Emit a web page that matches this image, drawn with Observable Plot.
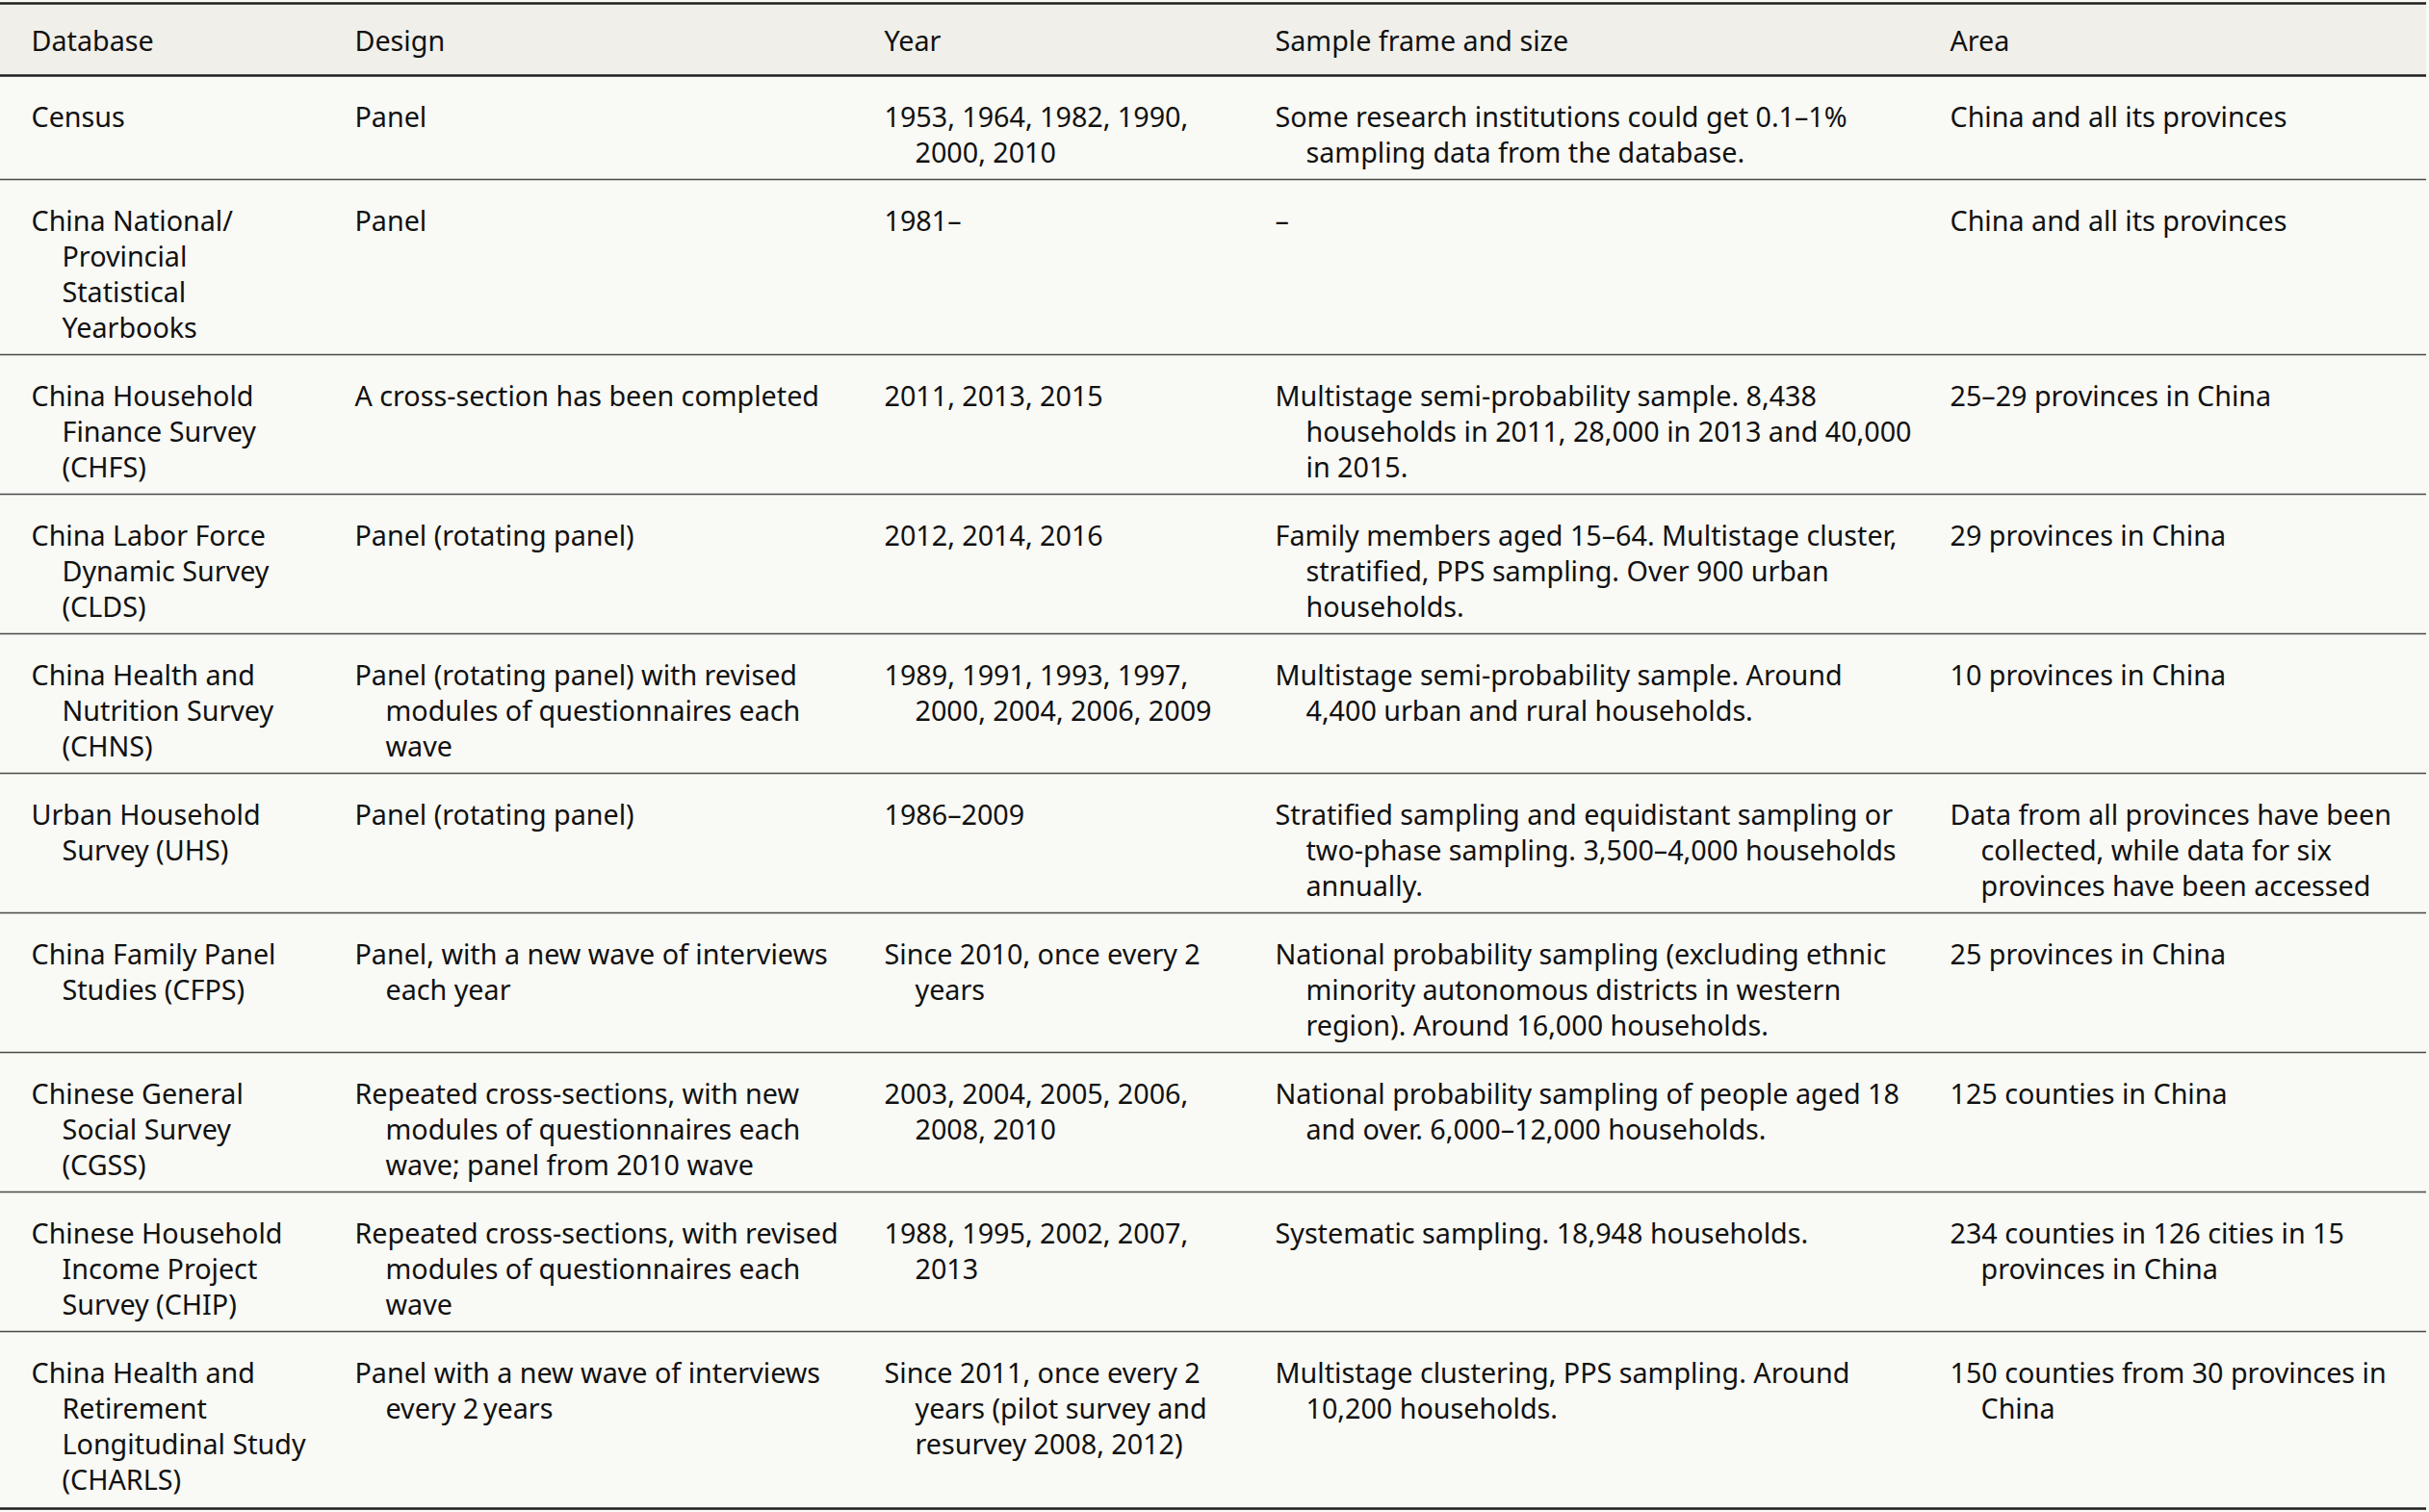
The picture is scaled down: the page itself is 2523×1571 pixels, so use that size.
<!DOCTYPE html>
<html>
<head>
<meta charset="utf-8">
<script src="https://cdn.jsdelivr.net/npm/d3@7"></script>
<script src="https://cdn.jsdelivr.net/npm/@observablehq/plot@0.6"></script>
<style>
  html, body { margin: 0; padding: 0; background: #f9f9f5; }
  #chart svg { display: block; background: #f9f9f5; }
</style>
</head>
<body>
<div id="chart"></div>
<script>
// ---- Data ----
const columns = ["Database", "Design", "Year", "Sample frame and size", "Area"];

const database = [
  "Census",
  "China National/\nProvincial\nStatistical\nYearbooks",
  "China Household\nFinance Survey\n(CHFS)",
  "China Labor Force\nDynamic Survey\n(CLDS)",
  "China Health and\nNutrition Survey\n(CHNS)",
  "Urban Household\nSurvey (UHS)",
  "China Family Panel\nStudies (CFPS)",
  "Chinese General\nSocial Survey\n(CGSS)",
  "Chinese Household\nIncome Project\nSurvey (CHIP)",
  "China Health and\nRetirement\nLongitudinal Study\n(CHARLS)"
];

const design = [
  "Panel",
  "Panel",
  "A cross-section has been completed",
  "Panel (rotating panel)",
  "Panel (rotating panel) with revised\nmodules of questionnaires each\nwave",
  "Panel (rotating panel)",
  "Panel, with a new wave of interviews\neach year",
  "Repeated cross-sections, with new\nmodules of questionnaires each\nwave; panel from 2010 wave",
  "Repeated cross-sections, with revised\nmodules of questionnaires each\nwave",
  "Panel with a new wave of interviews\nevery 2\u2009years"
];

const year = [
  "1953, 1964, 1982, 1990,\n2000, 2010",
  "1981–",
  "2011, 2013, 2015",
  "2012, 2014, 2016",
  "1989, 1991, 1993, 1997,\n2000, 2004, 2006, 2009",
  "1986–2009",
  "Since 2010, once every 2\nyears",
  "2003, 2004, 2005, 2006,\n2008, 2010",
  "1988, 1995, 2002, 2007,\n2013",
  "Since 2011, once every 2\nyears (pilot survey and\nresurvey 2008, 2012)"
];

const sample = [
  "Some research institutions could get 0.1–1%\nsampling data from the database.",
  "–",
  "Multistage semi-probability sample. 8,438\nhouseholds in 2011, 28,000 in 2013 and 40,000\nin 2015.",
  "Family members aged 15–64. Multistage cluster,\nstratified, PPS sampling. Over 900 urban\nhouseholds.",
  "Multistage semi-probability sample. Around\n4,400 urban and rural households.",
  "Stratified sampling and equidistant sampling or\ntwo-phase sampling. 3,500–4,000 households\nannually.",
  "National probability sampling (excluding ethnic\nminority autonomous districts in western\nregion). Around 16,000 households.",
  "National probability sampling of people aged 18\nand over. 6,000–12,000 households.",
  "Systematic sampling. 18,948 households.",
  "Multistage clustering, PPS sampling. Around\n10,200 households."
];

const area = [
  "China and all its provinces",
  "China and all its provinces",
  "25–29 provinces in China",
  "29 provinces in China",
  "10 provinces in China",
  "Data from all provinces have been\ncollected, while data for six\nprovinces have been accessed",
  "25 provinces in China",
  "125 counties in China",
  "234 counties in 126 cities in 15\nprovinces in China",
  "150 counties from 30 provinces in\nChina"
];

// ---- Layout (styles, not data) ----
const W = 2523, H = 1571;
const colStart = {"Database": 32, "Design": 368, "Year": 918, "Sample frame and size": 1324, "Area": 2025};
const tableRight = 2520;
const fontSize = 28.7;
const lineH = 37;
const indent = 32;
const headerTop = 3, headerBottom = 78, headerBaseline = 52;
const rowPad = 34, firstBaselineOffset = 53;

const cellCols = [database, design, year, sample, area];

// Build rows
const rows = database.map((_, i) => {
  const cells = cellCols.map(c => c[i].split("\n"));
  return {i, cells, n: d3.max(cells, c => c.length)};
});
let cursor = headerBottom;
for (const r of rows) {
  r.top = cursor;
  r.bottom = cursor + rowPad + lineH * r.n;
  cursor = r.bottom;
}

// Text lines
const lines = [];
rows.forEach(r => {
  r.cells.forEach((cl, ci) => {
    cl.forEach((t, li) => {
      lines.push({col: columns[ci], text: t, cont: li > 0, y: r.top + firstBaselineOffset + li * lineH});
    });
  });
});
const headerCells = columns.map(c => ({col: c, text: c, y: headerBaseline}));

const rowRules = rows.slice(0, -1).map(r => ({y: r.bottom}));
const topRules = [{y: headerTop}, {y: headerBottom}, {y: rows[rows.length - 1].bottom + 2}];

const textStyle = {
  x: d => colStart[d.col],
  y: "y",
  text: "text",
  textAnchor: "start",
  lineAnchor: "bottom",
  fontSize: fontSize,
  fill: "#111111"
};

const chart = Plot.plot({
  width: W,
  height: H,
  margin: 0,
  style: {fontFamily: "'Noto Sans', sans-serif", background: "#f9f9f5"},
  x: {type: "linear", domain: [0, W], range: [0, W], axis: null},
  y: {type: "linear", domain: [0, H], range: [0, H], axis: null},
  marks: [
    Plot.rect([{y1: headerTop, y2: headerBottom}], {x1: 0, x2: tableRight, y1: "y1", y2: "y2", fill: "#f0efe9"}),
    Plot.ruleY(rowRules, {y: "y", x1: 0, x2: tableRight, stroke: "#4a4a4a", strokeWidth: 1.5}),
    Plot.ruleY(topRules, {y: "y", x1: 0, x2: tableRight, stroke: "#1e1e1e", strokeWidth: 2.5}),
    Plot.text(headerCells, textStyle),
    Plot.text(lines.filter(d => !d.cont), textStyle),
    Plot.text(lines.filter(d => d.cont), {...textStyle, dx: indent})
  ]
});
document.getElementById("chart").appendChild(chart);
</script>
</body>
</html>
